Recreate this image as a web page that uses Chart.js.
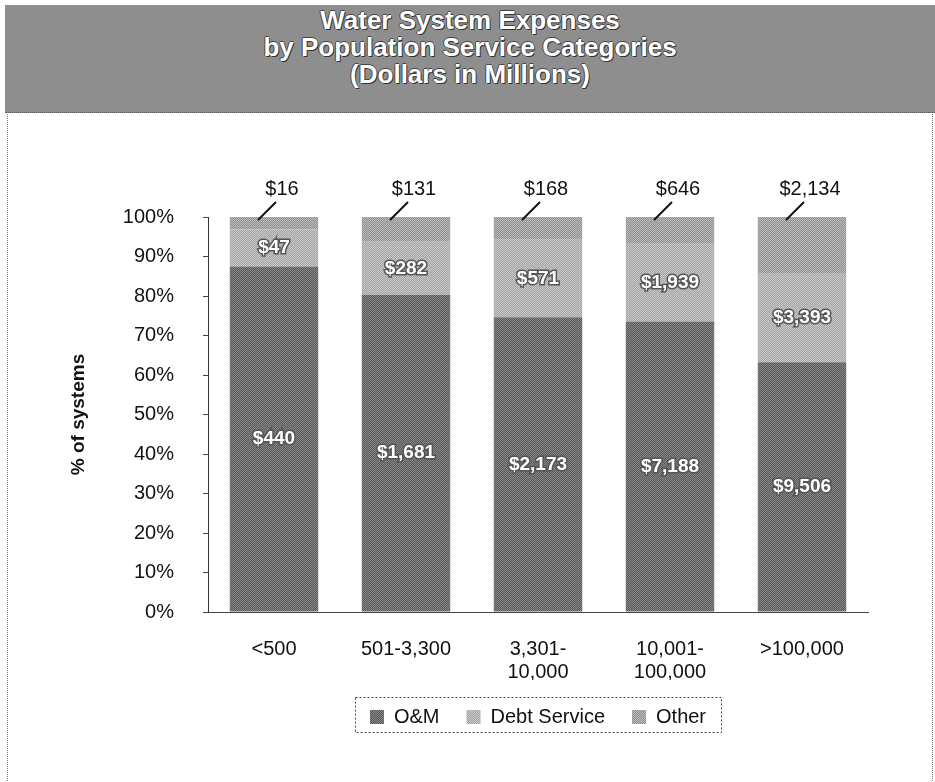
<!DOCTYPE html>
<html>
<head>
<meta charset="utf-8">
<script src="https://cdn.jsdelivr.net/npm/chart.js@4/dist/chart.umd.min.js"></script>
<style>
  body { margin: 0; background: #fff; width: 935px; height: 782px; overflow: hidden; font-family: "Liberation Sans", Arial, sans-serif; }
  .frame { position: absolute; left: 7px; top: 5px; width: 924px; height: 800px; border: 1px dotted #777; }
  .band {
    position: absolute; left: 5px; top: 5px; width: 930px; height: 108px;
    background: #8e8e8e; border-bottom: 1px dotted #555;
    color: #fff; text-align: center; font-weight: bold; font-size: 26px; line-height: 27px;
    padding-top: 2px; box-sizing: border-box;
    text-shadow: 1px 1px 0 #333, -1px 0 0 #444, 0 -1px 0 #444;
  }
  #wrap { position: absolute; left: 0; top: 115px; width: 935px; height: 667px; }
</style>
</head>
<body>
<div class="frame"></div>
<div class="band">Water System Expenses<br>by Population Service Categories<br>(Dollars in Millions)</div>
<div id="wrap"><canvas id="chart"></canvas></div>
<script>
// categories and dollar values (millions)
const categories = ['<500', '501-3,300', ['3,301-', '10,000'], ['10,001-', '100,000'], '>100,000'];
const omValues = [440, 1681, 2173, 7188, 9506];
const debtValues = [47, 282, 571, 1939, 3393];
const otherValues = [16, 131, 168, 646, 2134];
const yTicks = [0, 10, 20, 30, 40, 50, 60, 70, 80, 90, 100];

const totals = omValues.map((v, i) => v + debtValues[i] + otherValues[i]);
const toPct = arr => arr.map((v, i) => v / totals[i] * 100);

const FONT = '"Liberation Sans", Arial, sans-serif';
const ctx = document.getElementById('chart');
const pat = ctx.getContext('2d');

// 2x2 checker so the bars look like the printed halftone
function mkPattern(a, b) {
    const c = document.createElement('canvas');
    c.width = 2; c.height = 2;
    const g = c.getContext('2d');
    g.fillStyle = a; g.fillRect(0, 0, 2, 2);
    g.fillStyle = b; g.fillRect(0, 0, 1, 1); g.fillRect(1, 1, 1, 1);
    return pat.createPattern(c, 'repeat');
}
const omFill = mkPattern('#868686', '#5a5a5a');
const debtFill = mkPattern('#cacaca', '#a2a2a2');
const otherFill = mkPattern('#bbbbbb', '#909090');

const fmt = v => '$' + v.toLocaleString('en-US');

const labelPlugin = {
    id: 'labels',
    afterDatasetsDraw(chart) {
        const c = chart.ctx;
        c.save();
        c.textAlign = 'center';
        c.textBaseline = 'middle';
        // white labels inside O&M and Debt segments
        c.font = 'bold 19px ' + FONT;
        [omValues, debtValues].forEach((vals, di) => {
            const meta = chart.getDatasetMeta(di);
            meta.data.forEach((bar, i) => {
                const y = (bar.y + bar.base) / 2;
                c.lineWidth = 3;
                c.strokeStyle = '#555';
                c.strokeText(fmt(vals[i]), bar.x, y);
                c.fillStyle = '#fff';
                c.fillText(fmt(vals[i]), bar.x, y);
            });
        });
        // "Other" values above the bars with a leader line
        const top = chart.getDatasetMeta(2);
        c.font = '20px ' + FONT;
        top.data.forEach((bar, i) => {
            c.fillStyle = '#111';
            c.fillText(fmt(otherValues[i]), bar.x + 8, bar.y - 28);
            c.beginPath();
            c.lineWidth = 2;
            c.strokeStyle = '#111';
            c.moveTo(bar.x + 2, bar.y - 15);
            c.lineTo(bar.x - 16, bar.y + 3);
            c.stroke();
        });
        c.restore();
    },
    afterDraw(chart) {
        // dotted frame round the legend
        const lg = chart.legend;
        if (!lg || !lg.legendHitBoxes.length) return;
        const boxes = lg.legendHitBoxes;
        const first = boxes[0], last = boxes[boxes.length - 1];
        const c = chart.ctx;
        c.save();
        c.setLineDash([2, 2]);
        c.strokeStyle = '#444';
        c.lineWidth = 1;
        c.strokeRect(first.left - 14.5, first.top - 9.5, last.left + last.width - first.left + 30, first.height + 15);
        c.restore();
    }
};

new Chart(ctx, {
    type: 'bar',
    data: {
        labels: categories,
        datasets: [
            { label: 'O&M', data: toPct(omValues), backgroundColor: omFill },
            { label: 'Debt Service', data: toPct(debtValues), backgroundColor: debtFill },
            { label: 'Other', data: toPct(otherValues), backgroundColor: otherFill }
        ]
    },
    plugins: [labelPlugin],
    options: {
        responsive: true,
        maintainAspectRatio: false,
        animation: false,
        datasets: { bar: { categoryPercentage: 1, barPercentage: 0.67 } },
        layout: { padding: { top: 102, right: 67, left: 63, bottom: 45 } },
        scales: {
            x: {
                stacked: true,
                grid: { display: false },
                border: { color: '#444', dash: [2, 2] },
                ticks: { color: '#111', font: { size: 20, family: FONT, lineHeight: 1.15 }, padding: 18, maxRotation: 0, autoSkip: false },
                afterFit: s => { s.height = 68; }
            },
            y: {
                stacked: true,
                min: 0, max: 100,
                afterBuildTicks: s => { s.ticks = yTicks.map(v => ({ value: v })); },
                afterFit: s => { s.width = 145; },
                grid: { drawOnChartArea: false, drawTicks: true, tickLength: 5, color: '#444' },
                border: { color: '#333' },
                ticks: { color: '#111', padding: 29, font: { size: 20, family: FONT }, callback: v => v + '%' },
                title: { display: true, text: '% of systems', color: '#111', font: { size: 19, weight: 'bold', family: FONT } }
            }
        },
        plugins: {
            legend: {
                position: 'bottom',
                fullSize: false,
                labels: {
                    color: '#111', boxWidth: 14, boxHeight: 14, padding: 27,
                    font: { size: 20, family: FONT }
                }
            },
            tooltip: { enabled: false }
        }
    }
});
</script>
</body>
</html>
